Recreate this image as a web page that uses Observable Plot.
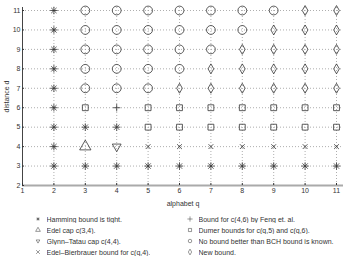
<!DOCTYPE html>
<html><head><meta charset="utf-8">
<script src="https://cdn.jsdelivr.net/npm/d3@7"></script>
<script src="https://cdn.jsdelivr.net/npm/@observablehq/plot@0.6"></script>
<style>
body{margin:0;background:#fff;font-family:"Liberation Sans",Arial,sans-serif;}
#chart svg{display:block;}
</style>
</head><body><div id="chart"></div>
<script>
// alphabet q (x) and distance d (y)
const qValues = [2,3,4,5,6,7,8,9,10,11];
const dValues = [3,4,5,6,7,8,9,10,11];
const xTicks = [1,2,3,4,5,6,7,8,9,10,11];
const yTicks = [2,3,4,5,6,7,8,9,10,11];
const codes = ["H","E","G","B","F","D","N","W"];
const categories = [
  "Hamming bound is tight.",
  "Edel cap c(3,4).",
  "Glynn\u2013Tatau cap c(4,4).",
  "Edel\u2013Bierbrauer bound for c(q,4).",
  "Bound for c(4,6) by Feng et. al.",
  "Dumer bounds for c(q,5) and c(q,6).",
  "No bound better than BCH bound is known.",
  "New bound."
];
// one row per distance d (3..11), one code per q (2..11)
const row3  = ["H","H","H","H","H","H","H","H","H","H"];
const row4  = ["H","E","G","B","B","B","B","B","B","B"];
const row5  = ["H","H","H","D","D","D","D","D","D","D"];
const row6  = ["H","D","F","D","D","D","D","D","D","D"];
const row7  = ["H","N","N","N","W","W","W","W","W","W"];
const row8  = ["H","N","N","N","N","W","W","W","W","W"];
const row9  = ["H","N","N","N","N","N","W","W","W","W"];
const row10 = ["H","N","N","N","N","N","N","W","W","W"];
const row11 = ["H","N","N","N","N","N","N","N","W","W"];
const rows = [row3,row4,row5,row6,row7,row8,row9,row10,row11];

const triangleDown = {draw(context, size) {
  const s = Math.sqrt(size) * 0.6824, t = s / 2, u = s * Math.sqrt(3) / 2;
  context.moveTo(0, s); context.lineTo(u, -t); context.lineTo(-u, -t); context.closePath();
}};
const asterisk8 = {draw(context, size) {
  const r = Math.sqrt(size) * 0.56, k = r / Math.SQRT2;
  context.moveTo(-r, 0); context.lineTo(r, 0);
  context.moveTo(0, -r); context.lineTo(0, r);
  context.moveTo(-k, -k); context.lineTo(k, k);
  context.moveTo(-k, k); context.lineTo(k, -k);
}};
const symbols = [asterisk8, "triangle", triangleDown, "times", "plus", "square", "circle", "diamond"];
const radii = [3.8, 4.2, 4.2, 2.3, 2.5, 3.3, 4.4, 3.0];

const table = [];
rows.forEach((r, i) => r.forEach((c, j) => table.push({q: qValues[j], d: dValues[i], cat: categories[codes.indexOf(c)]})));

const ink = "#333";
const plot = Plot.plot({
  width: 346, height: 212,
  marginLeft: 22, marginRight: 3, marginTop: 7, marginBottom: 27,
  style: {fontFamily: "'Liberation Sans', Arial, sans-serif", fontSize: "7px", color: ink, background: "#fff"},
  x: {domain: [1, 11], insetRight: 7},
  y: {domain: [2, 11], insetTop: 3},
  symbol: {domain: categories, range: symbols},
  marks: [
    Plot.gridX(qValues, {stroke: "#999", strokeOpacity: 1, strokeWidth: 0.8, strokeDasharray: "1,2"}),
    Plot.gridY(dValues, {stroke: "#999", strokeOpacity: 1, strokeWidth: 0.8, strokeDasharray: "1,2"}),
    Plot.ruleY([2], {stroke: "#aaa", strokeWidth: 2}),
    Plot.ruleX([1], {stroke: "#444", strokeWidth: 1}),
    Plot.axisX({ticks: xTicks, tickSize: -2, tickPadding: 5, tickFormat: d => d, label: "alphabet q", labelAnchor: "center", labelArrow: "none", labelOffset: 20}),
    Plot.axisY({ticks: yTicks, tickSize: -2, tickPadding: 4, tickFormat: d => d, label: "distance d", labelAnchor: "center", labelArrow: "none", labelOffset: 18}),
    ...categories.map((c, i) => Plot.dot(table.filter(t => t.cat === c), {x: "q", y: "d", symbol: "cat", r: radii[i], stroke: ink, strokeWidth: 0.8, fill: "none"}))
  ]
});
document.getElementById("chart").appendChild(plot);

const legend = Plot.legend({
  symbol: {domain: categories, range: symbols},
  columns: 2, swatchSize: 10, r: 2.8, stroke: ink, strokeWidth: 0.8, fill: "none",
  style: {fontFamily: "'Liberation Sans', Arial, sans-serif", fontSize: "7px", color: ink}
});
legend.style.marginLeft = "33px";
legend.style.marginTop = "2px";
legend.style.width = "304px";
legend.style.columnGap = "0px";
document.getElementById("chart").appendChild(legend);
</script>
</body></html>
